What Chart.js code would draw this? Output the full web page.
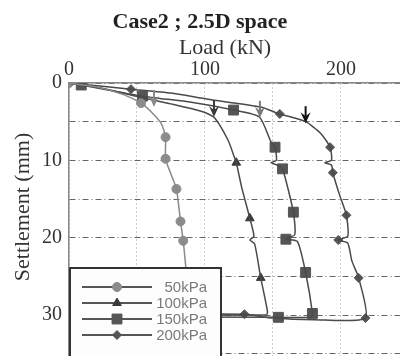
<!DOCTYPE html>
<html>
<head>
<meta charset="utf-8">
<script src="https://cdn.jsdelivr.net/npm/chart.js@4.4.1/dist/chart.umd.min.js"></script>
<style>
  html, body { margin: 0; padding: 0; background: #fff; }
</style>
</head>
<body>
<canvas id="chart" width="400" height="356"></canvas>
<script>
// ------------------------
// Data (load kN, settlement mm)
// ------------------------

const seriesLabels = ['50kPa', '100kPa', '150kPa', '200kPa'];

const curve50 = [[0,0],[20,0.5],[40,1.5],[53,2.6],[62,4],[68,5.3],[71,7],[71,9.8],[75,11.8],[79,13.7],[82,17.9],[84,20.4],[86,24],[88,27],[89,30],[0,30]];
const marks50 = [[0,0],[53,2.6],[71,7],[71,9.8],[79,13.7],[82,17.9],[84,20.4]];

const curve100 = [[0,0],[25,0.7],[54,1.9],[75,2.7],[99,3.75],[107,4.5],[117,7.4],[121,9.3],[123,10.3],[127,13.5],[133,17.5],[136,19.8],[133,20.3],[136.5,20.8],[141,25.2],[146,29.6],[145,30],[0,30]];
const marks100 = [[123,10.3],[133,17.5],[141,25.2]];

const curve150 = [[0,0],[9,0.26],[54,1.7],[90,2.5],[121,3.5],[140,4.4],[148.5,7.6],[151.5,8.3],[152.5,10],[148.5,10.3],[153,10.6],[157,11.1],[165,16.7],[166,19.6],[159.5,20.2],[168,20.5],[174,24.5],[179,29.8],[178,30.3],[154,30.3],[0,30.2]];
const marks150 = [[9,0.26],[54,1.7],[121,3.5],[151.5,8.3],[157,11.1],[165,16.7],[159.5,20.2],[174,24.5],[179,29.8],[154,30.3]];

const curve200 = [[0,0],[45.6,0.8],[75,1.3],[102,2.1],[141,3.1],[155,4.0],[174,5.0],[185,6.5],[192,8.3],[193,10],[188,10.3],[193,10.6],[194,11.6],[199,14.5],[204,17.1],[205,19.8],[198,20.3],[205,20.7],[208,23],[213,25.2],[218,30.4],[180,30.6],[150,30.4],[129,29.9],[0,29.8]];
const marks200 = [[45.6,0.8],[155,4.0],[192,8.3],[194,11.6],[204,17.1],[198,20.3],[213,25.2],[218,30.4],[129,29.9]];

// yield arrows (tip position)
const arrowLoad = [62.5, 106.6, 140.4, 174];
const arrowSettle = [3.1, 4.4, 4.5, 5.2];

const xTicks = [0, 100, 200];
const yTicks = [0, 10, 20, 30];

// ------------------------
// Styles
// ------------------------

const lineColors = ['#8a8a8a', '#4a4a4a', '#4a4a4a', '#4a4a4a'];
const markColors = ['#8c8c8c', '#3a3a3a', '#555555', '#555555'];
const markStyles = ['circle', 'triangle', 'rect', 'rectRot'];
const markSizes = [4.5, 5, 7, 4.5];
const arrowColors = ['#8a8a8a', '#3a3a3a', '#7a7a7a', '#111111'];

const toXY = pts => pts.map(p => ({ x: p[0], y: p[1] }));

const curves = [curve50, curve100, curve150, curve200];
const marks = [marks50, marks100, marks150, marks200];

const datasets = [];
curves.forEach((c, i) => {
  datasets.push({
    label: seriesLabels[i],
    data: toXY(c),
    showLine: true,
    borderColor: lineColors[i],
    borderWidth: 1.5,
    pointRadius: 0,
    pointHoverRadius: 0,
    tension: 0.2
  });
});
marks.forEach((m, i) => {
  datasets.push({
    label: seriesLabels[i] + ' marks',
    data: toXY(m),
    showLine: false,
    pointStyle: markStyles[i],
    pointRadius: markSizes[i],
    pointHoverRadius: markSizes[i],
    backgroundColor: markColors[i],
    borderColor: markColors[i],
    borderWidth: 1
  });
});

const serif = '"Liberation Serif", "Times New Roman", serif';

// arrows, legend box, axis titles
const extras = {
  id: 'extras',
  afterDatasetsDraw(chart) {
    const { ctx, scales: { x, y } } = chart;

    arrowLoad.forEach((v, i) => {
      const px = x.getPixelForValue(v);
      const py = y.getPixelForValue(arrowSettle[i]);
      ctx.save();
      ctx.strokeStyle = arrowColors[i];
      ctx.fillStyle = arrowColors[i];
      ctx.lineWidth = 2;
      ctx.beginPath();
      ctx.moveTo(px, py - 17);
      ctx.lineTo(px, py - 6);
      ctx.stroke();
      ctx.beginPath();
      ctx.moveTo(px, py);
      ctx.lineTo(px - 5, py - 11);
      ctx.lineTo(px, py - 7);
      ctx.lineTo(px + 5, py - 11);
      ctx.closePath();
      ctx.fill();
      ctx.restore();
    });
  },
  afterDraw(chart) {
    const { ctx } = chart;
    ctx.save();

    // legend
    ctx.fillStyle = '#fdfdfd';
    ctx.fillRect(70, 268, 151, 92);
    ctx.strokeStyle = '#333';
    ctx.lineWidth = 2;
    ctx.strokeRect(70, 268, 151, 92);
    const rows = [287, 303, 319, 335];
    seriesLabels.forEach((lab, i) => {
      ctx.strokeStyle = '#555';
      ctx.lineWidth = 1.8;
      ctx.beginPath();
      ctx.moveTo(82, rows[i]);
      ctx.lineTo(152, rows[i]);
      ctx.stroke();
      ctx.fillStyle = markColors[i];
      ctx.strokeStyle = markColors[i];
      ctx.lineWidth = 1;
      Chart.helpers.drawPoint(ctx, { pointStyle: markStyles[i], radius: markSizes[i], rotation: 0, borderWidth: 1 }, 117, rows[i]);
      ctx.fillStyle = '#7a7a7a';
      ctx.font = '15px "Liberation Sans", Arial, sans-serif';
      ctx.textAlign = 'right';
      ctx.textBaseline = 'middle';
      ctx.fillText(lab, 207, rows[i] + 1);
    });

    // axis titles
    ctx.fillStyle = '#333';
    ctx.font = '22px ' + serif;
    ctx.textAlign = 'center';
    ctx.textBaseline = 'alphabetic';
    ctx.fillText('Load (kN)', 225, 54);
    ctx.translate(29, 207);
    ctx.rotate(-Math.PI / 2);
    ctx.fillText('Settlement (mm)', 0, 0);
    ctx.restore();
  }
};

new Chart(document.getElementById('chart'), {
  type: 'scatter',
  data: { datasets },
  options: {
    responsive: false,
    animation: false,
    layout: { padding: 0, autoPadding: false },
    plugins: {
      legend: { display: false },
      tooltip: { enabled: false },
      title: {
        display: true,
        text: 'Case2 ; 2.5D space',
        color: '#222',
        font: { family: serif, size: 22, weight: 'bold' },
        padding: { top: 9, bottom: 0 }
      }
    },
    scales: {
      x: {
        type: 'linear',
        position: 'top',
        min: 0,
        max: 243.4,
        afterFit: s => { s.height = 47.6; s.paddingRight = 0; s.paddingLeft = 0; },
        ticks: {
          stepSize: 50,
          padding: 1,
          autoSkip: false,
          maxRotation: 0,
          includeBounds: false,
          color: '#333',
          font: { family: serif, size: 20 },
          callback: v => xTicks.includes(v) ? v : ''
        },
        grid: { color: '#999', lineWidth: 1, drawTicks: false },
        border: { display: true, color: '#888', width: 1.5, dash: [1, 3] }
      },
      y: {
        type: 'linear',
        reverse: true,
        min: 0,
        max: 35.3,
        afterFit: s => { s.width = 69; s.paddingTop = 0; s.paddingBottom = 0; },
        ticks: {
          stepSize: 5,
          padding: 7,
          autoSkip: false,
          includeBounds: false,
          color: '#333',
          font: { family: serif, size: 20 },
          callback: v => yTicks.includes(v) ? v : ''
        },
        grid: { color: '#666', lineWidth: 1, drawTicks: false },
        border: { display: true, color: '#888', width: 1.5, dash: [6, 3, 1, 3] }
      }
    }
  },
  plugins: [extras]
});
</script>
</body>
</html>
